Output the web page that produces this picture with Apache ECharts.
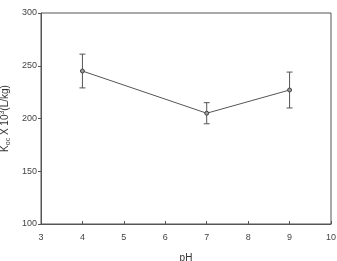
<!DOCTYPE html>
<html>
<head>
<meta charset="utf-8">
<script src="https://cdn.jsdelivr.net/npm/echarts@6/dist/echarts.min.js"></script>
<style>
  html, body { margin: 0; padding: 0; background: #fff; }
  #chart { width: 337px; height: 261px; }
</style>
</head>
<body>
<div id="chart"></div>
<script>
// pH values and Koc (x10^3 L/kg)
var ph = [4, 7, 9]
var koc = [245, 205, 227]
var errLow = [229, 195, 210]
var errHigh = [261, 215, 244]
var xTicks = [3, 4, 5, 6, 7, 8, 9, 10]
var yTicks = [100, 150, 200, 250, 300]

var chart = echarts.init(document.getElementById('chart'))
var lineColor = '#555'
var font = 'Liberation Sans, Arial, sans-serif'

var points = ph.map(function (p, i) { return [p, koc[i]] })
var bars = ph.map(function (p, i) { return [p, errLow[i], errHigh[i]] })

chart.setOption({
  animation: false,
  textStyle: { fontFamily: font },
  grid: { left: 41, right: 6, top: 13, bottom: 37, outerBoundsMode: 'none', containLabel: false },
  xAxis: {
    type: 'value',
    min: xTicks[0],
    max: xTicks[xTicks.length - 1],
    interval: 1,
    name: 'pH',
    nameLocation: 'middle',
    nameGap: 29,
    nameTextStyle: { fontSize: 10, color: '#333' },
    axisLine: { show: true, onZero: false, lineStyle: { color: lineColor, width: 1 } },
    axisTick: { show: true, inside: true, length: 3, lineStyle: { color: lineColor } },
    axisLabel: { fontSize: 9, color: '#444', margin: 9 },
    splitLine: { show: false }
  },
  yAxis: {
    type: 'value',
    min: yTicks[0],
    max: yTicks[yTicks.length - 1],
    interval: 50,
    name: '{k|K}{sub|oc}{t| X 10}{sup|3}{t|(L/kg)}',
    nameLocation: 'middle',
    nameGap: 25,
    nameTextStyle: {
      rich: {
        k: { fontSize: 10, color: '#333', fontFamily: font },
        t: { fontSize: 10, color: '#333', fontFamily: font },
        sub: { fontSize: 7, color: '#333', fontFamily: font, padding: [5, 0, 0, 0] },
        sup: { fontSize: 7, color: '#333', fontFamily: font, padding: [0, 0, 6, 0] }
      }
    },
    axisLine: { show: true, lineStyle: { color: lineColor, width: 1 } },
    axisTick: { show: true, inside: false, length: 3, lineStyle: { color: lineColor } },
    axisLabel: { fontSize: 9, color: '#444', margin: 4 },
    splitLine: { show: false }
  },
  series: [
    {
      type: 'line',
      data: points,
      symbol: 'circle',
      symbolSize: 4,
      lineStyle: { color: '#555', width: 1 },
      itemStyle: { color: '#999', borderColor: '#444', borderWidth: 1 },
      z: 3
    },
    {
      type: 'custom',
      data: bars,
      z: 2,
      renderItem: function (params, api) {
        var x = api.value(0)
        var lo = api.coord([x, api.value(1)])
        var hi = api.coord([x, api.value(2)])
        var w = 3
        var style = { stroke: '#555', lineWidth: 1 }
        return {
          type: 'group',
          children: [
            { type: 'line', shape: { x1: lo[0], y1: lo[1], x2: hi[0], y2: hi[1] }, style: style },
            { type: 'line', shape: { x1: lo[0] - w, y1: lo[1], x2: lo[0] + w, y2: lo[1] }, style: style },
            { type: 'line', shape: { x1: hi[0] - w, y1: hi[1], x2: hi[0] + w, y2: hi[1] }, style: style }
          ]
        }
      }
    }
  ]
})

// box frame: top and right edges
var rect = chart.getModel().getComponent('grid').coordinateSystem.getRect()
chart.setOption({
  graphic: [{
    type: 'rect',
    shape: { x: rect.x, y: rect.y, width: rect.width, height: rect.height },
    style: { fill: 'none', stroke: lineColor, lineWidth: 1 },
    silent: true,
    z: 0
  }]
})
</script>
</body>
</html>
